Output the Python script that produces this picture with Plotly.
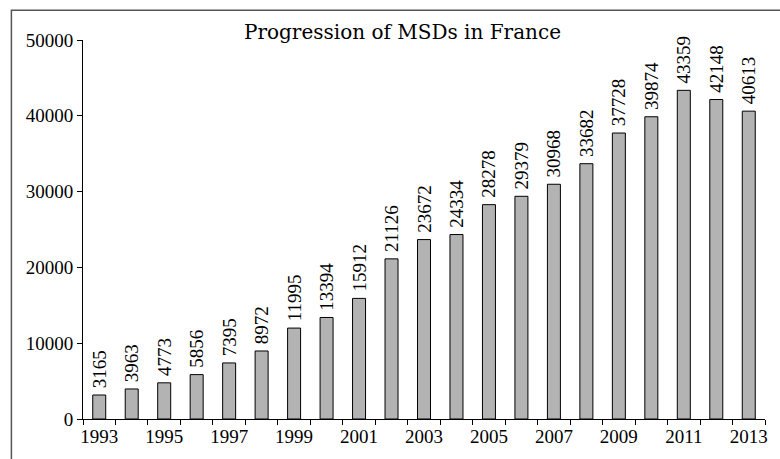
import plotly.graph_objects as go

FONT_FAMILY = "Liberation Serif, DejaVu Serif, serif"
TITLE_FONT = "DejaVu Serif, serif"

years = list(range(1993, 2014))
msds = [3165, 3963, 4773, 5856, 7395, 8972, 11995, 13394, 15912, 21126, 23672,
        24334, 28278, 29379, 30968, 33682, 37728, 39874, 43359, 42148, 40613]
year_ticks = list(range(1993, 2014, 2))
y_ticks = [0, 10000, 20000, 30000, 40000, 50000]

fig = go.Figure()
fig.add_trace(go.Bar(
    x=years, y=msds, width=0.4,
    marker=dict(color="#b3b3b3", line=dict(color="#000000", width=1)),
    # thin space so the label sits a little above the bar
    text=["\u2009" + str(v) for v in msds], textposition="outside", textangle=-90,
    constraintext="none", cliponaxis=False,
    textfont=dict(family=FONT_FAMILY, size=19, color="#000000"),
))

fig.update_layout(
    font=dict(family=FONT_FAMILY, size=19, color="#000000"),
    margin=dict(l=83, r=12, t=40, b=31),
    plot_bgcolor="white", paper_bgcolor="white",
    showlegend=False,
    annotations=[dict(
        text="Progression of MSDs in France", xref="paper", yref="paper",
        x=0.4686, y=1.022, xanchor="center", yanchor="middle", showarrow=False,
        font=dict(family=TITLE_FONT, size=20),
    )],
    shapes=[dict(
        type="rect", xref="paper", yref="paper",
        x0=-0.105, x1=1.06, y0=-0.2, y1=1.0786,
        line=dict(color="#555555", width=1.5), layer="below",
    )],
)

fig.update_xaxes(
    range=[1992.5, 2013.5], showgrid=False, zeroline=False,
    showline=True, linecolor="#000000", linewidth=1,
    tickvals=year_ticks, ticktext=[str(y) for y in year_ticks], ticks="",
    minor=dict(tick0=1992.5, dtick=1, ticks="outside", ticklen=5,
               tickcolor="#000000", tickwidth=1, showgrid=False),
)
fig.update_yaxes(
    range=[0, 50000], showgrid=False, zeroline=False,
    showline=True, linecolor="#000000", linewidth=1,
    tickvals=y_ticks, tickformat="d", ticks="outside", ticklen=5, tickcolor="#000000",
)

fig.write_html(
    "out.html",
    config={"displayModeBar": False},
    default_width="100vw", default_height="100vh",
    post_script="document.body.style.margin = '0'; Plotly.Plots.resize(document.getElementById('{plot_id}'));",
)
